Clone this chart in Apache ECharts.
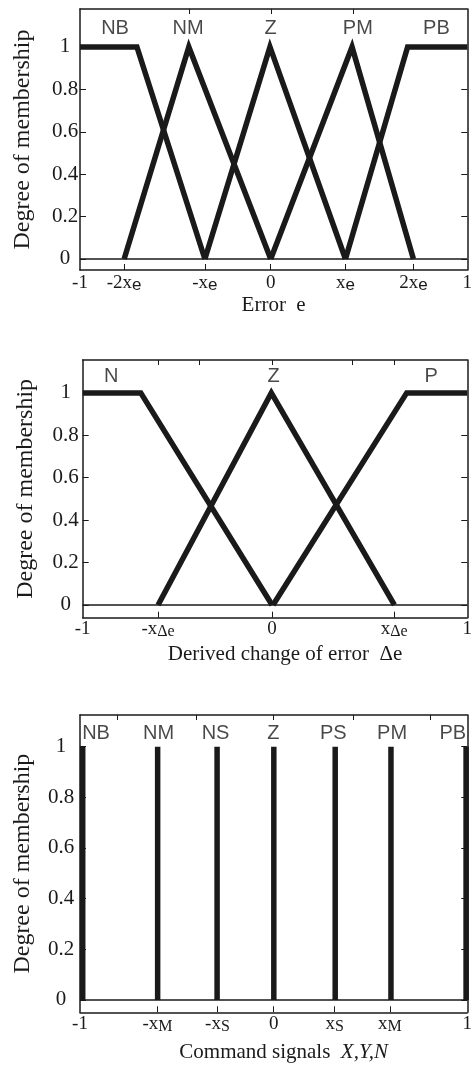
<!DOCTYPE html>
<html lang="en">
<head>
  <meta charset="utf-8" />
  <title>Fuzzy membership functions</title>
  <script src="https://cdn.jsdelivr.net/npm/echarts@6.0.0/dist/echarts.min.js"></script>
  <style>
    html, body { margin: 0; padding: 0; background: #fff; }
  </style>
</head>
<body>
  <div id="main" style="width: 475px;height:1068px;"></div>
  <script>
    // membership degree ticks (all three panels)
    var yTicks = [0, 0.2, 0.4, 0.6, 0.8, 1];

    // panel 1: error e
    var eTickVals = [-1, -0.772, -0.355, -0.015, 0.371, 0.722, 1];
    var eTickLabels = ['-1', '-2x_e', '-x_e', '0', 'x_e', '2x_e', '1'];
    var eTopTicks = [-0.438, -0.014, 0.41];
    var eTerms = ['NB', 'NM', 'Z', 'PM', 'PB'];
    var eTermX = [-0.819, -0.442, -0.015, 0.435, 0.841];
    var eNB = [[-1, 1], [-0.706, 1], [-0.355, 0]];
    var eNM = [[-0.772, 0], [-0.438, 1], [-0.015, 0]];
    var eZ = [[-0.355, 0], [-0.019, 1], [0.371, 0]];
    var ePM = [[-0.015, 0], [0.405, 1], [0.722, 0]];
    var ePB = [[0.371, 0], [0.692, 1], [1, 1]];

    // panel 2: derived change of error
    var dTickVals = [-1, -0.608, -0.015, 0.62, 1];
    var dTickLabels = ['-1', '-x_\u0394e', '0', 'x_\u0394e', '1'];
    var dTopTicks = [-0.608, -0.395, -0.015, 0.402, 0.62];
    var dTerms = ['N', 'Z', 'P'];
    var dTermX = [-0.852, -0.007, 0.813];
    var dN = [[-1, 1], [-0.698, 1], [-0.015, 0]];
    var dZ = [[-0.608, 0], [-0.019, 1], [0.621, 0]];
    var dP = [[-0.01, 0], [0.685, 1], [1, 1]];

    // panel 3: command signals (singletons)
    var cTickVals = [-1, -0.6, -0.29, 0, 0.315, 0.6, 1];
    var cTickLabels = ['-1', '-x_M', '-x_S', '0', 'x_S', 'x_M', '1'];
    var cTopTicks = [-0.806, -0.399, -0.001, 0.413, 0.811];
    var cTerms = ['NB', 'NM', 'NS', 'Z', 'PS', 'PM', 'PB'];
    var cTermX = [-0.917, -0.594, -0.3, -0.001, 0.308, 0.612, 0.925];
    var cPos = [-0.986, -0.599, -0.292, 0.001, 0.318, 0.606, 0.994];

    var ink = '#1a1a1a';
    var serif = 'Liberation Serif';
    var sans = 'Liberation Sans';

    var chart = echarts.init(document.getElementById('main'));

    var panels = [
      { grid: { left: 80, right: 1, top: 9, bottom: 798 }, ymin: -0.052, ymax: 1.179,
        ticks: eTickVals, labels: eTickLabels, top: eTopTicks, sub: 's',
        name: 'Error  e', nameGap: 24, namePad: [0, 0, 0, 0], labelMargin: 4, yMargin: 15,
        terms: eTerms, termX: eTermX, termY: 1.088, lines: [eNB, eNM, eZ, ePM, ePB] },
      { grid: { left: 82.7, right: 1.7, top: 360, bottom: 450.3 }, ymin: -0.06, ymax: 1.155,
        ticks: dTickVals, labels: dTickLabels, top: dTopTicks, sub: 't',
        name: 'Derived change of error  \u0394e', nameGap: 26, namePad: [0, 0, 0, 20], labelMargin: 2, yMargin: 17,
        terms: dTerms, termX: dTermX, termY: 1.076, lines: [dN, dZ, dP] },
      { grid: { left: 80, right: 1, top: 715, bottom: 55.7 }, ymin: -0.049, ymax: 1.125,
        ticks: cTickVals, labels: cTickLabels, top: cTopTicks, sub: 't',
        name: '{n|Command signals  }{i|X,Y,N}', nameGap: 30, namePad: [0, 0, 0, 20], labelMargin: 2, yMargin: 19,
        terms: cTerms, termX: cTermX, termY: 1.053,
        lines: cPos.map(function (p) { return [[p, 0], [p, 1]]; }) }
    ];

    function tickFormatter(vals, labels, sub) {
      return function (v) {
        for (var i = 0; i < vals.length; i++) {
          if (Math.abs(vals[i] - v) < 1e-6) {
            var parts = labels[i].split('_');
            if (parts.length > 1) return '{m|' + parts[0] + '}{' + sub + '|' + parts[1] + '}';
            return '{m|' + parts[0] + '}';
          }
        }
        return '';
      };
    }

    var option = {
      animation: false,
      grid: [], xAxis: [], yAxis: [], series: []
    };

    panels.forEach(function (p, g) {
      option.grid.push(p.grid);
      var axisLine = { show: true, onZero: false, lineStyle: { color: ink, width: 1.5 } };
      option.xAxis.push({
        type: 'value', gridIndex: g, min: -1, max: 1, position: 'bottom',
        axisLine: axisLine, splitLine: { show: false },
        axisTick: { inside: true, length: 6, customValues: p.ticks.slice(1, -1), lineStyle: { color: ink, width: 1 } },
        axisLabel: {
          customValues: p.ticks, margin: p.labelMargin, color: ink,
          formatter: tickFormatter(p.ticks, p.labels, p.sub),
          rich: {
            m: { fontFamily: serif, fontSize: 19, lineHeight: 20, verticalAlign: 'top', color: ink },
            s: { fontFamily: sans, fontSize: 17, lineHeight: 17, padding: [9, 0, 0, 0], verticalAlign: 'bottom', color: ink },
            t: { fontFamily: serif, fontSize: 16, lineHeight: 16, padding: [10, 0, 0, 0], verticalAlign: 'bottom', color: ink }
          }
        },
        name: p.name, nameLocation: 'middle', nameGap: p.nameGap,
        nameTextStyle: {
          fontFamily: serif, fontSize: 21, color: ink, padding: p.namePad,
          rich: {
            n: { fontFamily: serif, fontSize: 21, color: ink },
            i: { fontFamily: serif, fontSize: 21, fontStyle: 'italic', color: ink }
          }
        }
      });
      option.xAxis.push({
        type: 'value', gridIndex: g, min: -1, max: 1, position: 'top',
        axisLine: axisLine, splitLine: { show: false },
        axisTick: { inside: true, length: 5, customValues: p.top, lineStyle: { color: ink, width: 1 } },
        axisLabel: { show: false }
      });
      option.yAxis.push({
        type: 'value', gridIndex: g, min: p.ymin, max: p.ymax, position: 'left',
        axisLine: axisLine, splitLine: { show: false },
        axisTick: { inside: true, length: 6, customValues: yTicks, lineStyle: { color: ink, width: 1 } },
        axisLabel: {
          customValues: yTicks, margin: p.yMargin, align: 'center',
          fontFamily: serif, fontSize: 21, color: ink,
          formatter: function (v) { return String(Math.round(v * 10) / 10); }
        },
        name: 'Degree of membership', nameLocation: 'middle', nameGap: 45,
        nameTextStyle: { fontFamily: serif, fontSize: 24, color: ink }
      });
      option.yAxis.push({
        type: 'value', gridIndex: g, min: p.ymin, max: p.ymax, position: 'right',
        axisLine: axisLine, splitLine: { show: false },
        axisTick: { inside: true, length: 6, customValues: yTicks, lineStyle: { color: ink, width: 1 } },
        axisLabel: { show: false }
      });

      // zero baseline
      option.series.push({
        type: 'line', xAxisIndex: 2 * g, yAxisIndex: 2 * g, data: [[-1, 0], [1, 0]],
        showSymbol: false, silent: true, lineStyle: { color: ink, width: 1.5 }
      });
      p.lines.forEach(function (d) {
        option.series.push({
          type: 'line', xAxisIndex: 2 * g, yAxisIndex: 2 * g, data: d,
          showSymbol: false, silent: true,
          lineStyle: { color: ink, width: 5.5, join: 'miter', miterLimit: 10, cap: 'butt' }
        });
      });
      option.series.push({
        type: 'scatter', xAxisIndex: 2 * g, yAxisIndex: 2 * g,
        symbolSize: 1, itemStyle: { color: 'rgba(0,0,0,0)' }, silent: true,
        data: p.terms.map(function (t, i) { return { name: t, value: [p.termX[i], p.termY] }; }),
        label: { show: true, position: 'inside', formatter: '{b}', fontFamily: sans, fontSize: 20, color: ink }
      });
    });

    chart.setOption(option);
  </script>
</body>
</html>
